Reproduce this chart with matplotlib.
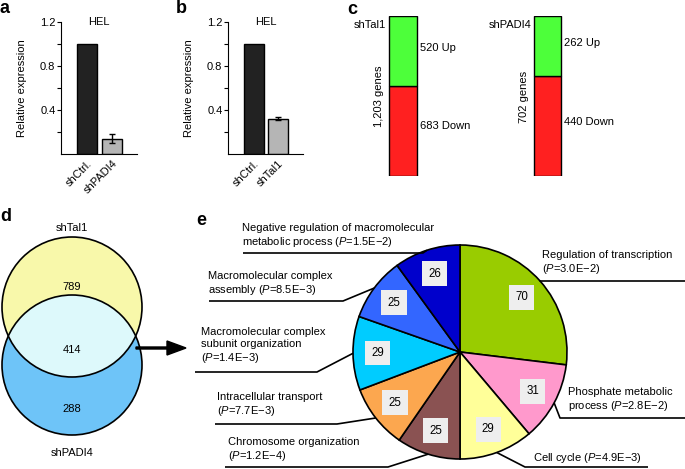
import numpy as np
import matplotlib
matplotlib.use("Agg")
import matplotlib.pyplot as plt
from matplotlib.patches import Circle

plt.rcParams["font.family"] = ["Liberation Sans", "DejaVu Sans"]
plt.rcParams["mathtext.fontset"] = "custom"
plt.rcParams["mathtext.rm"] = "Liberation Sans"
plt.rcParams["mathtext.it"] = "Liberation Sans:italic"

W, H = 685, 469

# a / b: qPCR knockdown
names_a = ["shCtrl.", "shPADI4"]
expr_a = [1.0, 0.14]
err_a = [0.0, 0.04]
names_b = ["shCtrl.", "shTal1"]
expr_b = [1.0, 0.32]
err_b = [0.0, 0.015]

# c: up / down regulated genes
c_names = ["shTal1", "shPADI4"]
c_up = [520, 262]
c_down = [683, 440]

# d: overlap of regulated genes
venn_names = ["shTal1", "shPADI4"]
only_tal1 = 789
shared = 414
only_padi4 = 288

# e: GO terms of the shared genes (clockwise from 12 o'clock)
go_counts = [70, 31, 29, 25, 25, 29, 25, 26]
go_terms = [
    "Regulation of transcription\n({p})",
    "Phosphate metabolic\nprocess ({p})",
    "Cell cycle ({p})",
    "Chromosome organization\n({p})",
    "Intracellular transport\n({p})",
    "Macromolecular complex\nsubunit organization\n({p})",
    "Macromolecular complex\nassembly ({p})",
    "Negative regulation of macromolecular\nmetabolic process ({p})",
]
go_pvals = ["3.0E\u22122", "2.8E\u22122", "4.9E\u22123", "1.2E\u22124",
            "7.7E\u22123", "1.4E\u22123", "8.5E\u22123", "1.5E\u22122"]
go_colors = ["#99cc00", "#ff99cc", "#ffff99", "#8a5252",
             "#fca74f", "#00ccff", "#3366ff", "#0000cc"]

# label layout in pixels: text x, text center y, underline y, inner x, outer x
go_layout = [
    (542, 263, 281, 540, 685),
    (568, 400, 418, 560, 685),
    (533, 458, 467, 525, 648),
    (228, 450, 467, 388, 225),
    (217, 405, 424, 337, 215),
    (201, 346, 372, 317, 195),
    (208, 284, 301, 343, 209),
    (242, 236, 253, 423, 243),
]


def Y(py):
    return H - py


def bar_panel(ax, names, vals, errs):
    x = np.arange(len(names))
    ax.bar(x, vals, width=0.8, color=["#222222", "#b5b5b5"], edgecolor="k", linewidth=1)
    ax.errorbar(x[1:], vals[1:], yerr=errs[1:], fmt="none", ecolor="k",
                capsize=2, elinewidth=1, capthick=1)
    ax.set_xlim(-1.04, 2.0)
    ax.set_ylim(0, 1.2)
    ax.set_yticks([0.4, 0.8, 1.2])
    ax.set_yticklabels(["0.4", "0.8", "1.2"], fontsize=8)
    ax.set_yticks([0.2, 0.6, 1.0], minor=True)
    ax.tick_params(axis="y", which="both", length=3, width=0.8, pad=1)
    ax.set_xticks(x)
    ax.set_xticklabels(names, rotation=45, ha="right", rotation_mode="anchor", fontsize=8)
    ax.tick_params(axis="x", length=0, pad=3)
    ax.spines["top"].set_visible(False)
    ax.spines["right"].set_visible(False)
    ax.set_ylabel("Relative expression", fontsize=8)
    ax.yaxis.set_label_coords(-0.45, 0.5)
    ax.text(0.5, 1.0, "HEL", transform=ax.transAxes, ha="center", va="center", fontsize=8)


fig = plt.figure(figsize=(W / 100, H / 100), dpi=100)

# full-figure overlay in pixel units
ax0 = fig.add_axes([0, 0, 1, 1])
ax0.set_xlim(0, W)
ax0.set_ylim(0, H)
ax0.axis("off")

# panels a and b
ax_a = fig.add_axes([61 / W, 1 - 154 / H, 76 / W, 132 / H])
bar_panel(ax_a, names_a, expr_a, err_a)
ax_b = fig.add_axes([228 / W, 1 - 154 / H, 75 / W, 132 / H])
bar_panel(ax_b, names_b, expr_b, err_b)

# panel c
ax_c = fig.add_axes([340 / W, 1 - 176.5 / H, 270 / W, 160 / H])
ax_c.set_xlim(340, 610)
ax_c.set_ylim(0, 1)
ax_c.axis("off")
c_x = [403, 547.5]
c_w = [28, 27]
for i in range(2):
    tot = c_up[i] + c_down[i]
    fd = c_down[i] / tot
    fu = c_up[i] / tot
    ax_c.bar(c_x[i], fd, width=c_w[i], color="#ff2020", edgecolor="k", linewidth=1)
    ax_c.bar(c_x[i], fu, bottom=fd, width=c_w[i], color="#4dff3a", edgecolor="k", linewidth=1)
    right = c_x[i] + c_w[i] / 2 + 3
    ax_c.text(right, fd + fu / 2 + 0.02, f"{c_up[i]} Up", fontsize=8, va="center")
    ax_c.text(right, fd / 2 + 0.03, f"{c_down[i]} Down", fontsize=8, va="center")
    left = c_x[i] - c_w[i] / 2
    ax_c.text(left - 10, 0.5, f"{tot:,} genes", rotation=90, fontsize=8,
              ha="center", va="center")
    ax_c.text(left - 3, 0.95, c_names[i], fontsize=8, ha="right", va="center")

# panel d: venn
ca = (72, Y(307))
cb = (72, Y(365))
r = 70
circ_a = Circle(ca, r, facecolor="#f8f8aa", edgecolor="none")
circ_b = Circle(cb, r, facecolor="#6ec4f8", edgecolor="none")
ax0.add_patch(circ_a)
ax0.add_patch(circ_b)
inter = Circle(cb, r, facecolor="#ddf9fb", edgecolor="none")
ax0.add_patch(inter)
inter.set_clip_path(circ_a)
ax0.add_patch(Circle(ca, r, facecolor="none", edgecolor="k", linewidth=1.2))
ax0.add_patch(Circle(cb, r, facecolor="none", edgecolor="k", linewidth=1.2))
ax0.text(72, Y(228), venn_names[0], ha="center", va="center", fontsize=8)
ax0.text(72, Y(453), venn_names[1], ha="center", va="center", fontsize=8)
ax0.text(72, Y(287), str(only_tal1), ha="center", va="center", fontsize=8)
ax0.text(72, Y(350), str(shared), ha="center", va="center", fontsize=8)
ax0.text(72, Y(409), str(only_padi4), ha="center", va="center", fontsize=8)
ax0.arrow(136, Y(348), 50, 0, width=2, head_width=14, head_length=19,
          length_includes_head=True, color="k")

# panel e: pie
total = sum(go_counts)
pc = (460, Y(352))
pr = 107
wedges, _, autotexts = ax0.pie(
    go_counts, colors=go_colors, startangle=90, counterclock=False,
    center=pc, radius=pr, pctdistance=0.77,
    autopct=lambda p: f"{round(p * total / 100)}",
    wedgeprops=dict(edgecolor="k", linewidth=1.2),
    textprops=dict(fontsize=8.3),
)
for t in autotexts:
    t.set_bbox(dict(boxstyle="square,pad=0.55", facecolor="#eeeeee", edgecolor="none"))
ax0.set_xlim(0, W)
ax0.set_ylim(0, H)
ax0.set_aspect("auto")
ax0.axis("off")

for w, term, p, (tx, ty, uy, xin, xout) in zip(wedges, go_terms, go_pvals, go_layout):
    mid = np.deg2rad((w.theta1 + w.theta2) / 2)
    ex = pc[0] + pr * np.cos(mid)
    ey = pc[1] + pr * np.sin(mid)
    ax0.plot([ex, xin, xout], [ey, Y(uy), Y(uy)], color="k", lw=1.2, solid_capstyle="butt")
    label = term.format(p=r"$\mathit{P}$=" + p)
    ax0.text(tx, Y(ty), label, fontsize=8, ha="left", va="center", linespacing=1.2)

# panel letters
for letter, lx, ly in [("a", 0, 8), ("b", 176, 8), ("c", 347, 9), ("d", 0, 216), ("e", 196, 220)]:
    ax0.text(lx, Y(ly), letter, fontsize=13, fontweight="bold", ha="left", va="center")

fig.savefig("out.png", dpi=100)
